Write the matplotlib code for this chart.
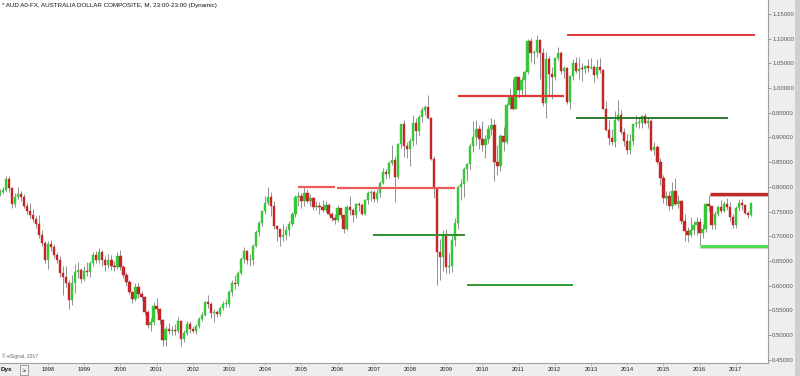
import matplotlib
matplotlib.use("Agg")
import matplotlib.pyplot as plt
import numpy as np
from matplotlib.patches import Rectangle
from matplotlib.ticker import FixedLocator, FormatStrFormatter

plt.rcParams['font.family'] = ['Liberation Sans', 'DejaVu Sans']

# ---------------- data (monthly AUD/USD, Sep 1996 .. Jun 2017) ----------------
start_year, start_month = 1996, 9
first_open = 0.786

close = [
    # 1996 Sep-Dec
    0.790, 0.793, 0.815, 0.797,
    # 1997
    0.765, 0.780, 0.785, 0.780, 0.762, 0.752, 0.742, 0.734, 0.725, 0.703, 0.686, 0.652,
    # 1998
    0.684, 0.678, 0.662, 0.652, 0.625, 0.618, 0.605, 0.570, 0.605, 0.627, 0.632, 0.614,
    # 1999
    0.630, 0.628, 0.645, 0.662, 0.652, 0.669, 0.652, 0.642, 0.652, 0.640, 0.637, 0.659,
    # 2000
    0.638, 0.622, 0.608, 0.588, 0.574, 0.597, 0.584, 0.577, 0.547, 0.521, 0.526, 0.558,
    # 2001
    0.553, 0.530, 0.490, 0.512, 0.509, 0.510, 0.508, 0.528, 0.492, 0.505, 0.522, 0.512,
    # 2002
    0.509, 0.518, 0.533, 0.541, 0.566, 0.563, 0.544, 0.546, 0.543, 0.554, 0.563, 0.563,
    # 2003
    0.588, 0.606, 0.603, 0.626, 0.654, 0.671, 0.652, 0.651, 0.680, 0.709, 0.726, 0.752,
    # 2004
    0.768, 0.780, 0.762, 0.720, 0.714, 0.698, 0.702, 0.713, 0.725, 0.744, 0.779, 0.781,
    # 2005
    0.772, 0.788, 0.772, 0.777, 0.760, 0.762, 0.760, 0.754, 0.763, 0.745, 0.737, 0.733,
    # 2006
    0.757, 0.742, 0.715, 0.759, 0.754, 0.743, 0.766, 0.763, 0.746, 0.773, 0.788, 0.789,
    # 2007
    0.775, 0.788, 0.808, 0.829, 0.825, 0.849, 0.855, 0.819, 0.886, 0.927, 0.883, 0.876,
    # 2008
    0.893, 0.930, 0.913, 0.942, 0.956, 0.962, 0.940, 0.857, 0.797, 0.668, 0.658, 0.704,
    # 2009
    0.637, 0.640, 0.692, 0.726, 0.800, 0.806, 0.836, 0.846, 0.882, 0.901, 0.916, 0.897,
    # 2010
    0.884, 0.896, 0.916, 0.925, 0.850, 0.843, 0.902, 0.891, 0.966, 0.982, 0.958, 1.022,
    # 2011
    0.996, 1.016, 1.033, 1.095, 1.070, 1.072, 1.097, 1.071, 0.969, 1.058, 1.029, 1.023,
    # 2012
    1.061, 1.071, 1.035, 1.041, 0.972, 1.024, 1.051, 1.034, 1.039, 1.038, 1.044, 1.040,
    # 2013
    1.042, 1.026, 1.043, 1.036, 0.957, 0.914, 0.899, 0.890, 0.935, 0.945, 0.910, 0.892,
    # 2014
    0.875, 0.893, 0.927, 0.929, 0.930, 0.943, 0.929, 0.934, 0.875, 0.880, 0.850, 0.817,
    # 2015
    0.778, 0.781, 0.762, 0.792, 0.766, 0.771, 0.731, 0.711, 0.702, 0.713, 0.723, 0.729,
    # 2016
    0.706, 0.714, 0.766, 0.761, 0.723, 0.745, 0.760, 0.752, 0.766, 0.760, 0.739, 0.722,
    # 2017 Jan-Jun
    0.758, 0.768, 0.763, 0.748, 0.743, 0.768,
]

high = [
    0.796, 0.799, 0.821, 0.822,
    0.800, 0.787, 0.800, 0.792, 0.785, 0.767, 0.768, 0.756, 0.740, 0.743, 0.713, 0.690,
    0.690, 0.692, 0.684, 0.668, 0.660, 0.640, 0.640, 0.612, 0.622, 0.644, 0.648, 0.636,
    0.640, 0.648, 0.650, 0.668, 0.670, 0.676, 0.672, 0.660, 0.665, 0.662, 0.650, 0.669,
    0.672, 0.642, 0.628, 0.612, 0.590, 0.605, 0.605, 0.590, 0.580, 0.550, 0.535, 0.566,
    0.576, 0.555, 0.533, 0.519, 0.524, 0.518, 0.523, 0.536, 0.530, 0.510, 0.528, 0.528,
    0.518, 0.523, 0.537, 0.546, 0.569, 0.582, 0.567, 0.552, 0.551, 0.559, 0.568, 0.574,
    0.592, 0.612, 0.622, 0.630, 0.658, 0.679, 0.673, 0.664, 0.685, 0.712, 0.731, 0.754,
    0.782, 0.800, 0.790, 0.772, 0.722, 0.712, 0.725, 0.720, 0.730, 0.750, 0.783, 0.792,
    0.788, 0.799, 0.795, 0.786, 0.780, 0.772, 0.770, 0.773, 0.772, 0.768, 0.750, 0.745,
    0.763, 0.757, 0.743, 0.764, 0.782, 0.757, 0.767, 0.770, 0.767, 0.776, 0.792, 0.794,
    0.793, 0.795, 0.812, 0.838, 0.836, 0.852, 0.885, 0.862, 0.888, 0.928, 0.935, 0.890,
    0.898, 0.945, 0.940, 0.945, 0.962, 0.966, 0.985, 0.942, 0.862, 0.800, 0.694, 0.712,
    0.715, 0.666, 0.704, 0.737, 0.803, 0.815, 0.840, 0.848, 0.889, 0.933, 0.935, 0.926,
    0.934, 0.905, 0.925, 0.939, 0.937, 0.885, 0.907, 0.922, 0.970, 0.999, 1.018, 1.025,
    1.020, 1.022, 1.036, 1.100, 1.101, 1.077, 1.108, 1.100, 1.080, 1.072, 1.064, 1.042,
    1.063, 1.083, 1.074, 1.045, 1.043, 1.026, 1.058, 1.062, 1.062, 1.050, 1.047, 1.058,
    1.060, 1.046, 1.058, 1.060, 1.038, 0.973, 0.935, 0.917, 0.953, 0.976, 0.955, 0.919,
    0.906, 0.907, 0.928, 0.946, 0.942, 0.945, 0.950, 0.942, 0.938, 0.890, 0.884, 0.858,
    0.823, 0.791, 0.791, 0.809, 0.817, 0.784, 0.773, 0.744, 0.718, 0.738, 0.730, 0.738,
    0.736, 0.725, 0.768, 0.784, 0.762, 0.752, 0.764, 0.773, 0.772, 0.778, 0.770, 0.745,
    0.762, 0.775, 0.775, 0.765, 0.752, 0.770,
]

low = [
    0.782, 0.786, 0.790, 0.790,
    0.758, 0.760, 0.775, 0.772, 0.757, 0.745, 0.737, 0.728, 0.717, 0.697, 0.680, 0.645,
    0.633, 0.670, 0.655, 0.645, 0.617, 0.581, 0.598, 0.552, 0.560, 0.585, 0.615, 0.606,
    0.610, 0.620, 0.618, 0.640, 0.645, 0.645, 0.640, 0.630, 0.636, 0.632, 0.630, 0.634,
    0.632, 0.615, 0.600, 0.583, 0.565, 0.568, 0.575, 0.570, 0.540, 0.515, 0.508, 0.520,
    0.545, 0.522, 0.478, 0.477, 0.502, 0.500, 0.500, 0.504, 0.478, 0.485, 0.500, 0.504,
    0.505, 0.502, 0.515, 0.528, 0.538, 0.554, 0.535, 0.527, 0.536, 0.538, 0.550, 0.557,
    0.556, 0.580, 0.594, 0.600, 0.621, 0.645, 0.644, 0.640, 0.642, 0.678, 0.700, 0.720,
    0.744, 0.764, 0.740, 0.715, 0.690, 0.680, 0.690, 0.693, 0.700, 0.720, 0.738, 0.762,
    0.758, 0.762, 0.768, 0.762, 0.753, 0.753, 0.745, 0.750, 0.750, 0.742, 0.730, 0.725,
    0.728, 0.736, 0.706, 0.713, 0.743, 0.728, 0.737, 0.752, 0.742, 0.743, 0.765, 0.772,
    0.770, 0.770, 0.780, 0.805, 0.815, 0.818, 0.845, 0.770, 0.815, 0.878, 0.860, 0.858,
    0.843, 0.882, 0.887, 0.904, 0.932, 0.946, 0.938, 0.854, 0.778, 0.602, 0.612, 0.630,
    0.625, 0.625, 0.628, 0.680, 0.715, 0.774, 0.780, 0.812, 0.836, 0.870, 0.885, 0.876,
    0.873, 0.858, 0.888, 0.905, 0.811, 0.824, 0.831, 0.873, 0.887, 0.958, 0.955, 0.960,
    0.980, 0.986, 0.983, 1.029, 1.053, 1.049, 1.062, 1.019, 0.964, 0.939, 0.986, 0.977,
    1.016, 1.056, 1.029, 1.021, 0.968, 0.958, 1.017, 1.030, 1.018, 1.014, 1.030, 1.032,
    1.038, 1.012, 1.021, 1.031, 0.957, 0.913, 0.885, 0.885, 0.881, 0.933, 0.907, 0.882,
    0.866, 0.867, 0.884, 0.922, 0.920, 0.918, 0.927, 0.920, 0.872, 0.864, 0.846, 0.803,
    0.768, 0.763, 0.753, 0.756, 0.763, 0.757, 0.725, 0.690, 0.689, 0.699, 0.702, 0.703,
    0.683, 0.696, 0.708, 0.751, 0.715, 0.715, 0.740, 0.748, 0.750, 0.754, 0.731, 0.716,
    0.716, 0.752, 0.754, 0.744, 0.737, 0.740,
]

# support / resistance lines drawn on the chart
level_value = [0.800, 0.798, 0.703, 0.601, 0.984, 1.107, 0.939, 0.786, 0.681]
level_start = [2004.91, 2005.98, 2006.98, 2009.575, 2009.33, 2012.34, 2012.59, 2016.29, 2016.01]
level_end   = [2005.93, 2009.24, 2009.52, 2012.50, 2012.25, 2017.53, 2016.79, 2018.00, 2018.00]
level_color = ['#ee5a5a', '#ee5a5a', '#2f8f2f', '#2f9a2f', '#e03838', '#e03838',
               '#1f6f1f', '#c22a2a', '#46dc46']
level_width = [1.6, 1.6, 1.4, 1.4, 1.6, 1.4, 1.3, 2.4, 2.0]
level_shadow = [False, False, False, False, False, False, False, True, True]

years = list(range(1998, 2018))
yticks = [0.45, 0.50, 0.55, 0.60, 0.65, 0.70, 0.75, 0.80, 0.85, 0.90, 0.95, 1.00, 1.05, 1.10, 1.15]

title = "* AUD A0-FX, AUSTRALIA DOLLAR COMPOSITE, M, 23:00-23:00 (Dynamic)"

# ---------------- figure ----------------
W, H = 800, 376
fig = plt.figure(figsize=(W / 100, H / 100), dpi=100)
fig.patch.set_facecolor('#eeeeee')

ax = fig.add_axes([0, 13 / H, 768 / W, 363 / H])
ax.set_facecolor('white')

n = len(close)
t = np.array([start_year + (start_month - 1 + i) / 12.0 for i in range(n)])
opens = np.array([first_open] + close[:-1])
closes = np.array(close)
highs = np.array(high)
lows = np.array(low)

up = closes >= opens
body_bottom = np.minimum(opens, closes)
body_h = np.maximum(np.abs(closes - opens), 0.0018)
colors = np.where(up, '#36c836', '#c42628')

ax.vlines(t, lows, highs, color='#909090', lw=0.7, zorder=2)
ax.bar(t, body_h, bottom=body_bottom, width=0.064, color=colors,
       edgecolor=colors, linewidth=0.3, zorder=3, align='center')

for v, s, e, c, w, sh in zip(level_value, level_start, level_end, level_color,
                             level_width, level_shadow):
    if sh:
        ax.hlines(v - 0.0055, s, e, color='#c8c8c8', lw=1.2, zorder=4)
    ax.hlines(v, s, e, color=c, lw=w, zorder=5)

ax.set_xlim(1996.674, 2017.89)
ax.set_ylim(0.4435, 1.178)

# axes
ax.yaxis.tick_right()
ax.yaxis.set_major_locator(FixedLocator(yticks))
ax.yaxis.set_major_formatter(FormatStrFormatter('%.5f'))
ax.tick_params(axis='y', which='major', length=2, width=0.6, pad=1.0,
               labelsize=4.3, colors='#8a8a8a', labelcolor='#555555')
ax.set_xticks(years)
ax.set_xticklabels([str(y) for y in years])
ax.tick_params(axis='x', which='major', length=1.5, width=0.5, pad=1.6,
               labelsize=4.2, colors='#999999', labelcolor='#222222')
for side in ['top', 'left']:
    ax.spines[side].set_visible(False)
ax.spines['right'].set_color('#a0a0a0')
ax.spines['right'].set_linewidth(0.8)
ax.spines['bottom'].set_color('#a0a0a0')
ax.spines['bottom'].set_linewidth(0.8)

ax.text(0.003, 0.986, title, transform=ax.transAxes, fontsize=4.5,
        va='center', ha='left', color='#111111')
ax.text(0.003, 0.02, "\u00a9 eSignal, 2017", transform=ax.transAxes, fontsize=3.6,
        va='center', ha='left', color='#666666')

# right-edge darker strip and bottom-left controls
fig.patches.append(Rectangle((795 / W, 0), 5 / W, 1, transform=fig.transFigure,
                             facecolor='#cfcfcf', edgecolor='none', zorder=0))
fig.text(1 / W, 1 - 370 / H, "Dys", fontsize=4.6, fontweight='bold',
         va='center', ha='left', color='#111111')
fig.patches.append(Rectangle((20 / W, 1 - 375 / H), 8 / W, 10 / H, transform=fig.transFigure,
                             facecolor='#f6f6f6', edgecolor='#777777', lw=0.5, zorder=3))
fig.text(24 / W, 1 - 370 / H, "\u21f2", fontsize=3.5, va='center', ha='center',
         color='#444444', zorder=4)

fig.savefig("out.png", dpi=100, facecolor=fig.get_facecolor())
